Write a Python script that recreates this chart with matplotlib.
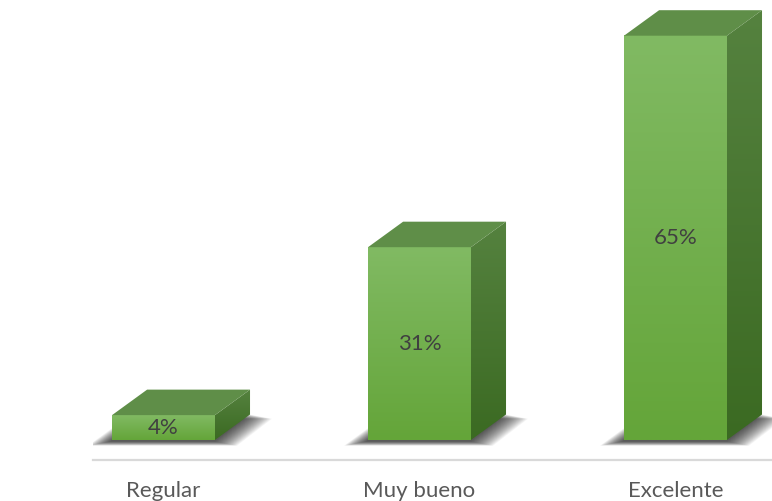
import numpy as np
import matplotlib.pyplot as plt
from matplotlib.colors import LinearSegmentedColormap
from matplotlib.patches import Polygon

categories = ['Regular', 'Muy bueno', 'Excelente']
values = [4, 31, 65]
value_labels = ['4%', '31%', '65%']

plt.rcParams['font.family'] = ['Lato', 'DejaVu Sans']

fig = plt.figure(figsize=(7.72, 5.01), dpi=100)
ax = fig.add_axes([93 / 772, 41 / 501, 679 / 772, 460 / 501])

# bar geometry (data units): half front width and 3D depth offset
half_w = 0.201
dx, dy = 0.137, 4.1
px_x, px_y = 1 / 256, 1 / 6.22  # one pixel in data units

front_cmap = LinearSegmentedColormap.from_list('front', ['#64a539', '#81ba63'])
side_cmap = LinearSegmentedColormap.from_list('side', ['#3b6a22', '#55823f'])
grad = np.linspace(0, 1, 256).reshape(-1, 1)

for i, v in enumerate(values):
    x0, x1 = i - half_w, i + half_w

    # soft shadow around the footprint, built from stacked translucent layers
    for k in range(22):
        gx = k * 1.05 * px_x
        gy = k * 0.2 * px_y
        foot = [(x0 - gx - 2 * px_x, -gy - 1.5 * px_y), (x1 + gx, -gy - 1.5 * px_y),
                (x1 + dx + gx, dy - gy), (x0 + dx - gx, dy - gy)]
        ax.add_patch(Polygon(foot, closed=True, facecolor='black',
                             edgecolor='none', alpha=0.045, zorder=1))

    # front face with vertical gradient
    ax.imshow(grad, extent=(x0, x1, 0, v), origin='lower', cmap=front_cmap,
              aspect='auto', interpolation='bilinear', zorder=3)

    # right side face
    side = Polygon([(x1, 0), (x1 + dx, dy), (x1 + dx, v + dy), (x1, v)],
                   closed=True, transform=ax.transData)
    im = ax.imshow(grad, extent=(x1, x1 + dx, 0, v + dy), origin='lower',
                   cmap=side_cmap, aspect='auto', interpolation='bilinear', zorder=3)
    im.set_clip_path(side)

    # top face
    ax.add_patch(Polygon([(x0, v), (x1, v), (x1 + dx, v + dy), (x0 + dx, v + dy)],
                         closed=True, facecolor='#5f8e48', edgecolor='none', zorder=3))

    ax.text(i, v / 2, value_labels[i], ha='center', va='center',
            fontsize=16, color='#404040', zorder=5)

ax.set_xlim(-0.2754, 2.377)
ax.set_ylim(-3.215, 70.74)

for s in ['top', 'left', 'right']:
    ax.spines[s].set_visible(False)
ax.spines['bottom'].set_color('#d9d9d9')
ax.spines['bottom'].set_linewidth(1.6)
ax.set_xticks(range(len(categories)))
ax.set_xticklabels(categories)
ax.tick_params(axis='x', length=0, pad=15, labelsize=16, labelcolor='#595959')
ax.set_yticks([])
ax.patch.set_alpha(0)

fig.savefig('out.png', dpi=100)
